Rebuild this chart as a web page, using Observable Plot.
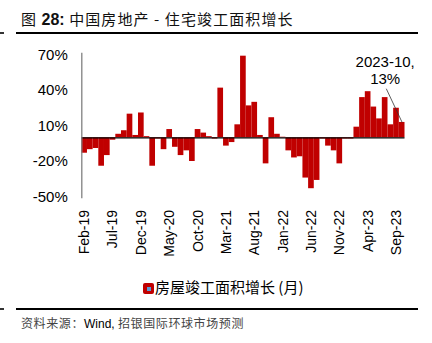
<!DOCTYPE html>
<html>
<head>
<meta charset="utf-8">
<script src="https://cdn.jsdelivr.net/npm/d3@7"></script>
<script src="https://cdn.jsdelivr.net/npm/@observablehq/plot@0.6"></script>
<style>
  html, body { margin:0; padding:0; background:#fff; }
  #wrap { position:relative; width:432px; height:343px; overflow:hidden; font-family:"Liberation Sans", Arial, sans-serif; }
  #chart { position:absolute; left:0; top:0; }
  .abs { position:absolute; white-space:nowrap; }
  .cjk { font-family:"Noto Sans CJK SC", "Liberation Sans", sans-serif; }
</style>
</head>
<body>
<div id="wrap">
  <div id="chart"></div>
  <div class="abs cjk" id="title" style="left:21px;top:8px;font-size:15px;color:#111;letter-spacing:1.1px;"></div>
  <div class="abs" style="left:16px;top:32px;width:402px;height:2px;background:#000;"></div>
  <div class="abs" style="left:0px;top:32px;width:4px;height:2px;background:#333;"></div>
  <div class="abs cjk" id="legend" style="left:143px;top:276px;font-size:15px;color:#000;"></div>
  <div class="abs" style="left:16px;top:308px;width:402px;height:2px;background:#000;"></div>
  <div class="abs" style="left:0px;top:308px;width:4px;height:2px;background:#333;"></div>
  <div class="abs cjk" id="source" style="left:21px;top:314px;font-size:12px;color:#444;letter-spacing:0.6px;"></div>
</div>
<script>
const titleNo = "28:";
const titleText = "中国房地产 - 住宅竣工面积增长";
const seriesName = "房屋竣工面积增长 (月)";
const sourceLabel = "资料来源：";
const sourceText = "Wind, 招银国际环球市场预测";
const months = [
  "Feb-19","Mar-19","Apr-19","May-19","Jun-19","Jul-19","Aug-19","Sep-19","Oct-19","Nov-19","Dec-19",
  "Jan-20","Feb-20","Mar-20","Apr-20","May-20","Jun-20","Jul-20","Aug-20","Sep-20","Oct-20","Nov-20","Dec-20",
  "Jan-21","Feb-21","Mar-21","Apr-21","May-21","Jun-21","Jul-21","Aug-21","Sep-21","Oct-21","Nov-21","Dec-21",
  "Jan-22","Feb-22","Mar-22","Apr-22","May-22","Jun-22","Jul-22","Aug-22","Sep-22","Oct-22","Nov-22","Dec-22",
  "Jan-23","Feb-23","Mar-23","Apr-23","May-23","Jun-23","Jul-23","Aug-23","Sep-23","Oct-23"
];
const values = [
  -13,-10,-9,-24,-15,-2,3,6,20,2,21,
  1,-24,-1,-10,7,-8,-15,-11,-20,7,4,1,
  -1,42,-7,-4,11,69,27,30,2,-22,17,3,
  0.5,-11,-17,-16,-34,-43,-36,-1,-7,-11,-22,-1,
  -1,9,34,39,26,16,34,11,25,13
];
const tickLabels = ["Feb-19","Jul-19","Dec-19","May-20","Oct-20","Mar-21","Aug-21","Jan-22","Jun-22","Nov-22","Apr-23","Sep-23"];
const yTicks = [-50, -20, 10, 40, 70];
const annotText = "2023-10,\n13%";

const data = months.map((m, i) => ({m, i, v: values[i]}));
const last = data[data.length - 1];
const tickPos = tickLabels.map(l => months.indexOf(l) + 0.5);
const red = "#c00000";

const chart = Plot.plot({
  width: 432, height: 343,
  marginLeft: 81.3, marginRight: 27.5, marginTop: 54.5, marginBottom: 146.5,
  style: {fontFamily: "Liberation Sans, Arial, sans-serif", background: "transparent", color: "#000"},
  x: {type: "linear", domain: [0, months.length], axis: null},
  y: {domain: [d3.min(yTicks), d3.max(yTicks)], axis: null},
  marks: [
    Plot.rect(data, {x1: "i", x2: d => d.i + 1, y1: 0, y2: "v", fill: red}),
    Plot.ruleY([0], {stroke: "#000", strokeWidth: 1.3}),
    Plot.ruleX([0], {y1: d3.min(yTicks) - 1.5, y2: d3.max(yTicks) + 1.5, stroke: "#808080", strokeWidth: 1.3}),
    Plot.axisY({ticks: yTicks, tickFormat: d => d + "%", tickSize: 0, tickPadding: 14, fontSize: 15, anchor: "left", label: null}),
    Plot.axisX({ticks: tickPos, tickFormat: d => months[Math.floor(d)], tickRotate: -90, tickSize: 0, tickPadding: 13, fontSize: 14, anchor: "bottom", label: null}),
    Plot.link([last], {x1: d => d.i + 0.5 - 2.8, y1: d => d.v + 28.5, x2: d => d.i + 0.5, y2: "v", stroke: "#333", strokeWidth: 0.8}),
    Plot.text([last], {x: d => d.i + 0.3 - 2.8, y: d => d.v + 28.5, text: () => annotText, dy: -5, lineAnchor: "bottom", fontSize: 15, lineHeight: 1.1, fill: "#000"})
  ]
});
document.getElementById("chart").appendChild(chart);

document.getElementById("title").innerHTML =
  '图 <span style="font-family:Liberation Sans, Arial;font-weight:bold;font-size:16px;letter-spacing:0">' + titleNo + '</span> ' + titleText;
document.getElementById("legend").innerHTML =
  '<span style="display:inline-block;width:11px;height:11px;background:' + red + ';border-radius:2px;position:relative;vertical-align:-1px;margin-right:1px"><span style="position:absolute;left:4px;top:4px;width:4px;height:4px;background:#5b9bd5"></span></span>' + seriesName;
document.getElementById("source").innerHTML =
  sourceLabel + '<span style="font-family:Liberation Sans, Arial;color:#000;letter-spacing:0">Wind,</span> ' + sourceText.replace("Wind, ", "");
</script>
</body>
</html>
